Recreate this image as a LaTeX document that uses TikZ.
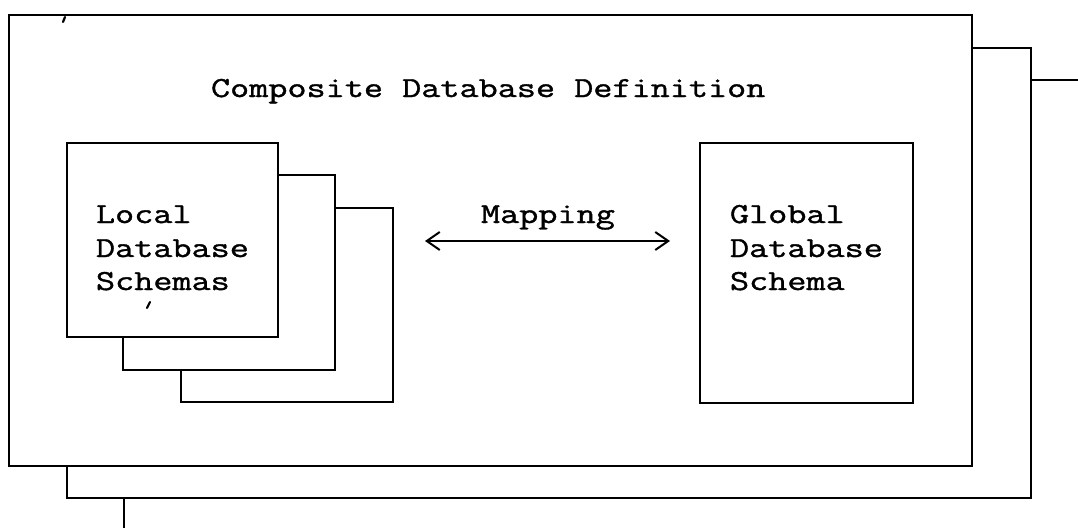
\documentclass[tikz,border=0pt]{standalone}
\usepackage{fontspec}
\newfontfamily\cour[FakeStretch=1.28,FakeBold=1.3]{Latin Modern Mono}
\usetikzlibrary{arrows.meta}
\begin{document}
\begin{tikzpicture}[x=1pt,y=-1pt,line width=2pt,
  frame/.style={draw=black,fill=white,line join=miter},
  lbl/.style={anchor=base west,inner sep=0pt,font=\cour\fontsize{29}{34}\selectfont},
  speck/.style={line width=2.2pt,line cap=round}]
\useasboundingbox (0,0) rectangle (1078,527);
\clip (0,0) rectangle (1078,527);
% stacked outer frames
\path[frame] (124,80) rectangle (1120,560);
\path[frame] (67,48) rectangle (1031,498);
\path[frame] (9,15) rectangle (972,466);
\node[lbl] (title) at (210,97) {Composite Database Definition};
% local schema stack
\path[frame] (181,208) rectangle (393,402);
\path[frame] (123,175) rectangle (335,370);
\path[frame] (67,143) rectangle (278,337);
\node[lbl] (l1) at (95,223) {Local};
\node[lbl] (l2) at (95,257) {Database};
\node[lbl] (l3) at (95,290) {Schemas};
% global schema
\path[frame] (700,143) rectangle (913,403);
\node[lbl] (g1) at (729,223) {Global};
\node[lbl] (g2) at (729,257) {Database};
\node[lbl] (g3) at (729,290) {Schema};
% mapping
\node[lbl] (map) at (480,223) {Mapping};
\coordinate (aL) at (425,241);
\coordinate (aR) at (670,241);
\draw[{Straight Barb[length=13pt,width=18pt,line width=2pt]}-{Straight Barb[length=13pt,width=18pt,line width=2pt]}] (aL) -- (aR);
% stray marks
\draw[speck] (63,22) -- (65,17);
\draw[speck] (147,308) -- (150,302);
\end{tikzpicture}
\end{document}
